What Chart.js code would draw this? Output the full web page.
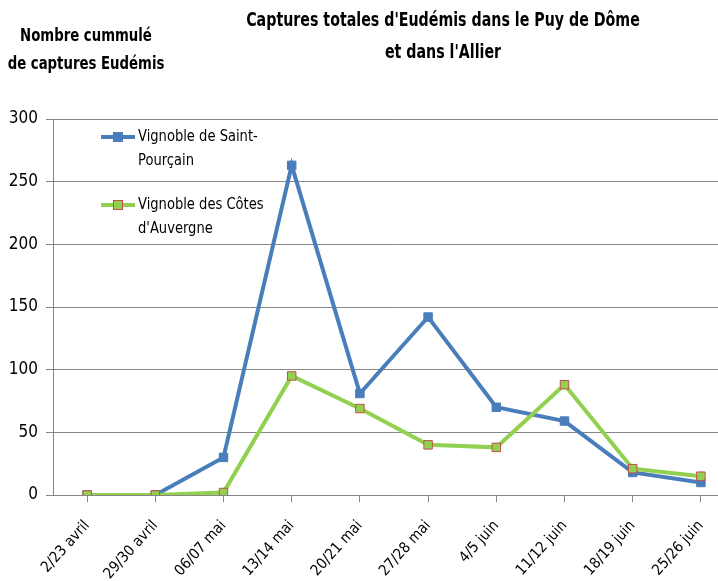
<!DOCTYPE html>
<html>
<head>
<meta charset="utf-8">
<script src="https://cdn.jsdelivr.net/npm/chart.js@4/dist/chart.umd.min.js"></script>
<style>
  html, body { margin: 0; padding: 0; background: #fff; }
  #wrap { position: relative; width: 718px; height: 581px; overflow: hidden; }
  #box { position: absolute; left: 0; top: 0; width: 745px; height: 581px; }
  .t { position: absolute; font-family: "Liberation Sans Narrow", "DejaVu Sans Condensed", sans-serif;
       font-weight: bold; color: #000; text-align: center; white-space: nowrap; }
</style>
</head>
<body>
<div id="wrap">
  <div id="box"><canvas id="chart"></canvas></div>
  <div class="t" id="title" style="left:143px; top:3px; width:600px; font-size:20px; line-height:32px; transform:scaleX(0.79);">
    Captures totales d'Eudémis dans le Puy de Dôme<br>et dans l'Allier</div>
  <div class="t" id="ytitle" style="left:-44px; top:21px; width:260px; font-size:18px; line-height:28px; transform:scaleX(0.82);">
    Nombre cummulé<br>de captures Eudémis</div>
</div>
<script>
// Données
const categories = ["2/23 avril", "29/30 avril", "06/07 mai", "13/14 mai", "20/21 mai",
  "27/28 mai", "4/5 juin", "11/12 juin", "18/19 juin", "25/26 juin"];
const saintPourcain = [0, 0, 30, 263, 81, 142, 70, 59, 18, 10];
const cotesAuvergne = [0, 0, 2, 95, 69, 40, 38, 88, 21, 15];
const yTicks = [0, 50, 100, 150, 200, 250, 300];

const FONT = "'Liberation Sans Narrow', 'DejaVu Sans Condensed', sans-serif";

// Légende dessinée dans la zone du graphique, texte sur deux lignes
const insideLegend = {
  id: "insideLegend",
  afterDraw(chart) {
    const ctx = chart.ctx;
    const entries = [
      { ds: chart.data.datasets[0], lines: ["Vignoble de Saint-", "Pourçain"], y: 137 },
      { ds: chart.data.datasets[1], lines: ["Vignoble des Côtes", "d'Auvergne"], y: 205 }
    ];
    ctx.save();
    entries.forEach(e => {
      ctx.strokeStyle = e.ds.borderColor;
      ctx.lineWidth = 4;
      ctx.beginPath();
      ctx.moveTo(101, e.y);
      ctx.lineTo(135, e.y);
      ctx.stroke();
      ctx.fillStyle = e.ds.pointBackgroundColor;
      ctx.fillRect(113, e.y - 5, 10, 10);
      if (e.ds.pointBorderColor !== e.ds.pointBackgroundColor) {
        ctx.strokeStyle = e.ds.pointBorderColor;
        ctx.lineWidth = 1;
        ctx.strokeRect(113.5, e.y - 4.5, 9, 9);
      }
      ctx.fillStyle = "#000";
      ctx.font = "16px " + FONT;
      ctx.textBaseline = "middle";
      // texte un peu resserré, comme dans l'original
      ctx.save();
      ctx.translate(138, e.y);
      ctx.scale(0.91, 1);
      ctx.fillText(e.lines[0], 0, 0);
      ctx.fillText(e.lines[1], 0, 24);
      ctx.restore();
    });
    ctx.restore();
  }
};

new Chart(document.getElementById("chart"), {
  type: "line",
  data: {
    labels: categories,
    datasets: [
      {
        label: "Vignoble de Saint-Pourçain",
        data: saintPourcain,
        order: 1,
        borderColor: "#4A7EBB",
        borderWidth: 4,
        pointStyle: "rect",
        pointRadius: 6,
        pointBackgroundColor: "#4A7EBB",
        pointBorderColor: "#4A7EBB",
        pointBorderWidth: 1,
        tension: 0
      },
      {
        label: "Vignoble des Côtes d'Auvergne",
        data: cotesAuvergne,
        order: 0,
        borderColor: "#92D050",
        borderWidth: 4,
        pointStyle: "rect",
        pointRadius: 6,
        pointBackgroundColor: "#92D050",
        pointBorderColor: "#C0504D",
        pointBorderWidth: 1,
        tension: 0
      }
    ]
  },
  options: {
    responsive: true,
    maintainAspectRatio: false,
    animation: false,
    layout: { padding: { top: 119, right: 10, left: 0, bottom: 0 } },
    plugins: {
      legend: { display: false },
      tooltip: { enabled: false }
    },
    scales: {
      x: {
        offset: true,
        grid: { display: true, drawOnChartArea: false, color: "#868686", tickLength: 7 },
        border: { color: "#868686" },
        ticks: {
          color: "#000",
          font: { family: FONT, size: 15 },
          minRotation: 48,
          maxRotation: 48,
          autoSkip: false,
          padding: 15
        },
        afterFit(scale) { scale.height = 86; }
      },
      y: {
        min: 0,
        max: 300,
        afterBuildTicks(scale) { scale.ticks = yTicks.map(v => ({ value: v })); },
        grid: { color: "#868686", tickLength: 7 },
        border: { color: "#868686" },
        ticks: {
          color: "#000",
          font: { family: FONT, size: 17 },
          padding: 8
        },
        afterFit(scale) { scale.width = 53; }
      }
    }
  },
  plugins: [insideLegend]
});
</script>
</body>
</html>
